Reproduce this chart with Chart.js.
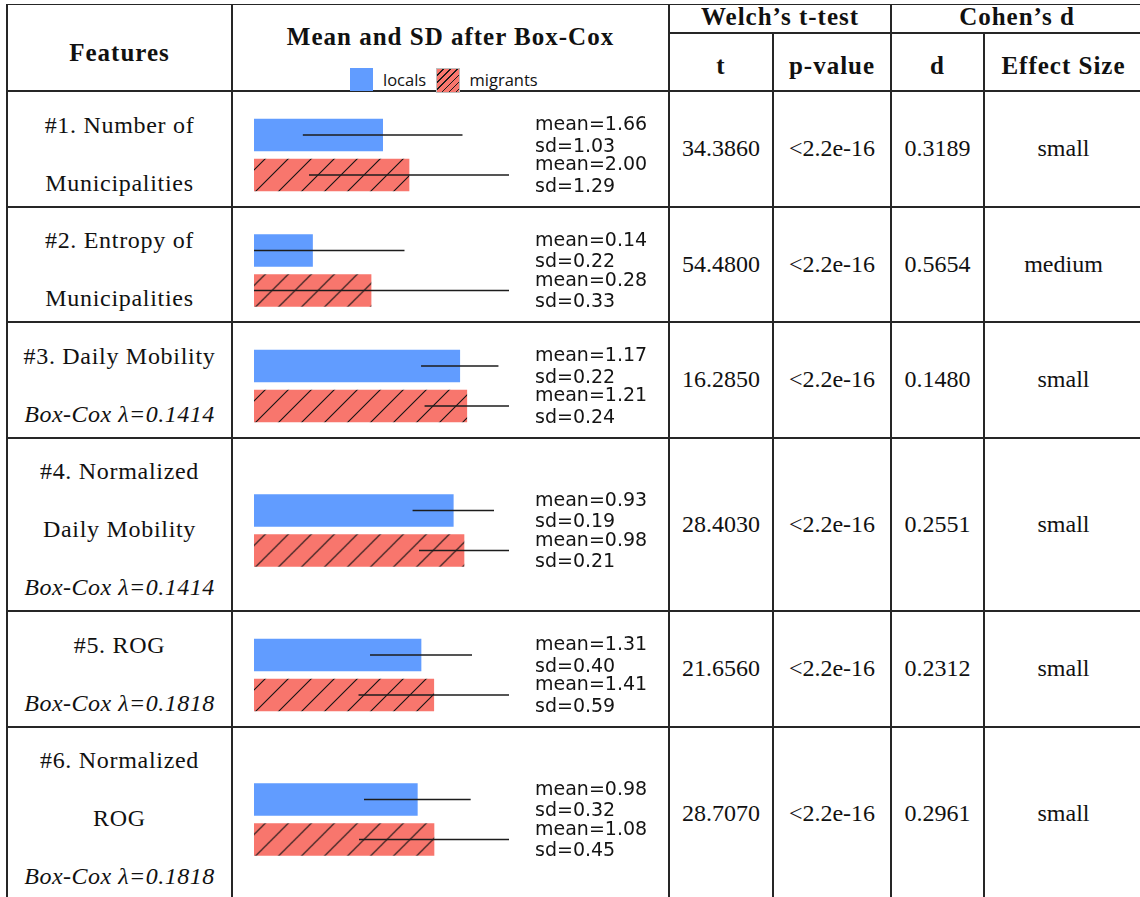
<!DOCTYPE html>
<html>
<head>
<meta charset="utf-8">
<script src="https://cdn.jsdelivr.net/npm/chart.js@4/dist/chart.umd.min.js"></script>
<style>
  html, body { margin: 0; padding: 0; background: #fff; }
  #page { position: relative; width: 1140px; height: 897px; overflow: hidden; background: #fff; }
  .rule { position: absolute; background: #262626; }
  .txt { position: absolute; white-space: nowrap; color: #111; transform: translateX(-50%); }
  .serif { font-family: "Liberation Serif", "DejaVu Serif", serif; font-size: 24px; line-height: 24px; }
  .label { letter-spacing: 0.7px; }
  .bold { font-weight: bold; font-size: 25px; line-height: 25px; letter-spacing: 1px; }
  .ital { font-style: italic; letter-spacing: 0.5px; }
  .legend { font-family: "Open Sans", sans-serif; font-size: 16.5px; line-height: 16.5px; color: #111; transform: none; }
  .swatch { position: absolute; box-sizing: border-box; }
  canvas.rowchart { position: absolute; }
</style>
</head>
<body>
<div id="page"></div>
<script>
// ---- table content ----
const features = [
  ["#1. Number of", "Municipalities"],
  ["#2. Entropy of", "Municipalities"],
  ["#3. Daily Mobility"],
  ["#4. Normalized", "Daily Mobility"],
  ["#5. ROG"],
  ["#6. Normalized", "ROG"]
];
const boxCoxLambda = [null, null, "0.1414", "0.1414", "0.1818", "0.1818"];
const groups = ["locals", "migrants"];
const localsMean   = [1.66, 0.14, 1.17, 0.93, 1.31, 0.98];
const localsSD     = [1.03, 0.22, 0.22, 0.19, 0.40, 0.32];
const migrantsMean = [2.00, 0.28, 1.21, 0.98, 1.41, 1.08];
const migrantsSD   = [1.29, 0.33, 0.24, 0.21, 0.59, 0.45];
const welchT   = ["34.3860", "54.4800", "16.2850", "28.4030", "21.6560", "28.7070"];
const pValues  = ["<2.2e-16", "<2.2e-16", "<2.2e-16", "<2.2e-16", "<2.2e-16", "<2.2e-16"];
const cohenD   = ["0.3189", "0.5654", "0.1480", "0.2551", "0.2312", "0.2961"];
const effectSize = ["small", "medium", "small", "small", "small", "small"];

const BLUE = "#619CFF";
const RED  = "#F8766D";

// ---- layout ----
const page = document.getElementById("page");
const X = { left: 7, feat: 232, plot: 669, t: 773, p: 891, d: 984, right: 1143 };
const rowEdges = [91, 207, 322, 438, 611, 727, 900];
const LW = 1.4;

function hRule(y, x0, x1) {
  const d = document.createElement("div");
  d.className = "rule";
  Object.assign(d.style, { left: x0 + "px", top: (y - LW / 2) + "px", width: (x1 - x0) + "px", height: LW + "px" });
  page.appendChild(d);
}
function vRule(x, y0, y1) {
  const d = document.createElement("div");
  d.className = "rule";
  Object.assign(d.style, { left: (x - LW / 2) + "px", top: y0 + "px", width: LW + "px", height: (y1 - y0) + "px" });
  page.appendChild(d);
}

// baseline placement: measure the font box so text sits on an exact baseline
const mctx = document.createElement("canvas").getContext("2d");
function baselineOffset(font, size) {
  mctx.font = font;
  const m = mctx.measureText("Hg");
  const a = m.fontBoundingBoxAscent, d = m.fontBoundingBoxDescent;
  return (size - (a + d)) / 2 + a;
}
function addText(str, cx, baseline, cls) {
  const el = document.createElement("div");
  el.className = "txt " + cls;
  el.textContent = str;
  page.appendChild(el);
  const cs = getComputedStyle(el);
  const size = parseFloat(cs.fontSize);
  const font = cs.fontStyle + " " + cs.fontWeight + " " + size + "px " + cs.fontFamily;
  el.style.top = (baseline - baselineOffset(font, size)) + "px";
  el.style.left = cx + "px";
  return el;
}

// rules
hRule(4.5, X.left, X.right);
hRule(33, X.plot, X.right);
rowEdges.slice(0, -1).forEach(y => hRule(y, X.left, X.right));
vRule(X.left, 4.5 - LW / 2, 900);
vRule(X.feat, 4.5 - LW / 2, 900);
vRule(X.plot, 4.5 - LW / 2, 900);
vRule(X.t, 33, 900);
vRule(X.p, 4.5 - LW / 2, 900);
vRule(X.d, 33, 900);

// header
addText("Features", (X.left + X.feat) / 2, 61, "serif bold");
addText("Mean and SD after Box-Cox", (X.feat + X.plot) / 2, 45, "serif bold");
addText("Welch\u2019s t-test", (X.plot + X.p) / 2, 25, "serif bold");
addText("Cohen\u2019s d", (X.p + X.right) / 2, 25, "serif bold");
addText("t", (X.plot + X.t) / 2, 74, "serif bold");
addText("p-value", (X.t + X.p) / 2, 74, "serif bold");
addText("d", (X.p + X.d) / 2, 74, "serif bold");
addText("Effect Size", (X.d + X.right) / 2, 74, "serif bold");

// legend
function legendSwatch(x, y, w, h, isHatched) {
  const s = document.createElement("div");
  s.className = "swatch";
  Object.assign(s.style, { left: x + "px", top: y + "px", width: w + "px", height: h + "px" });
  if (isHatched) {
    s.style.border = "1px solid #bdbdbd";
    s.style.background = "repeating-linear-gradient(135deg, " + RED + " 0px, " + RED + " 4.1px, #1a1a1a 4.1px, #1a1a1a 5px)";
  } else {
    s.style.background = BLUE;
  }
  page.appendChild(s);
}
legendSwatch(350, 68.3, 23, 22.7, false);
legendSwatch(435.7, 67.5, 24.5, 25, true);
addText(groups[0], 383, 86.7, "legend");
addText(groups[1], 469.5, 86.7, "legend");

// body text
rowEdges.slice(0, -1).forEach((top, i) => {
  const center = (top + rowEdges[i + 1]) / 2;
  const lines = features[i].slice();
  const lineCls = features[i].map(() => "serif label");
  if (boxCoxLambda[i]) { lines.push("Box-Cox \u03BB=" + boxCoxLambda[i]); lineCls.push("serif ital"); }
  const n = lines.length;
  lines.forEach((s, k) => addText(s, (X.left + X.feat) / 2, center + 12.5 + (k - (n - 1) / 2) * 58, lineCls[k]));
  const b = center + 7;
  addText(welchT[i], (X.plot + X.t) / 2, b, "serif");
  addText(pValues[i], (X.t + X.p) / 2, b, "serif");
  addText(cohenD[i], (X.p + X.d) / 2, b, "serif");
  addText(effectSize[i], (X.d + X.right) / 2, b, "serif");
});

// ---- bar charts: one per feature row ----
function hatchPattern(ctx, color, step, tx) {
  const c = document.createElement("canvas");
  c.width = step; c.height = step;
  const g = c.getContext("2d");
  g.fillStyle = color;
  g.fillRect(0, 0, step, step);
  g.strokeStyle = "#141414";
  g.lineWidth = 1.1;
  g.beginPath();
  g.moveTo(-1, step + 1); g.lineTo(step + 1, -1);
  g.moveTo(-2, 2); g.lineTo(2, -2);
  g.moveTo(step - 2, step + 2); g.lineTo(step + 2, step - 2);
  g.stroke();
  const p = ctx.createPattern(c, "repeat");
  p.setTransform(new DOMMatrix().translate(tx, 0));
  return p;
}

const sdLines = {
  id: "sdLines",
  afterDatasetsDraw(chart, args, opts) {
    const { ctx, chartArea, scales } = chart;
    const xs = scales.x;
    const bars = chart.getDatasetMeta(0).data;
    ctx.save();
    ctx.beginPath();
    ctx.rect(chartArea.left, 0, chartArea.right - chartArea.left, chart.height);
    ctx.clip();
    ctx.strokeStyle = "#1c1c1c";
    ctx.lineWidth = 1.6;
    bars.forEach((bar, i) => {
      const m = opts.means[i], s = opts.sds[i];
      ctx.beginPath();
      ctx.moveTo(xs.getPixelForValue(m - s), bar.y);
      ctx.lineTo(xs.getPixelForValue(m + s), bar.y);
      ctx.stroke();
    });
    ctx.restore();
    ctx.save();
    ctx.fillStyle = "#141414";
    ctx.font = "19px 'DejaVu Sans', sans-serif";
    ctx.textBaseline = "alphabetic";
    ctx.textAlign = "left";
    const tx = chartArea.right + 26;
    bars.forEach((bar, i) => {
      ctx.fillText("mean=" + opts.means[i].toFixed(2), tx, bar.y - 5);
      ctx.fillText("sd=" + opts.sds[i].toFixed(2), tx, bar.y + 16.5);
    });
    ctx.restore();
  }
};

rowEdges.slice(0, -1).forEach((top, i) => {
  const h = rowEdges[i + 1] - top;
  const w = X.plot - X.feat - 1;
  const cv = document.createElement("canvas");
  cv.className = "rowchart";
  cv.width = w; cv.height = h;
  Object.assign(cv.style, { left: (X.feat + 1) + "px", top: top + "px", width: w + "px", height: h + "px" });
  page.appendChild(cv);
  const ctx = cv.getContext("2d");

  const padLeft = 254 - (X.feat + 1);
  const padRight = (X.feat + 1 + w) - 509;
  const padTop = h / 2 - 34;
  const padBottom = h / 2 - 46;
  const redBottom = h - padBottom - 4;
  const means = [localsMean[i], migrantsMean[i]];
  const sds = [localsSD[i], migrantsSD[i]];
  const xMax = Math.max(means[0] + sds[0], means[1] + sds[1]);
  const step = 23;
  const hatch = hatchPattern(ctx, RED, step, ((padLeft + 2 + redBottom) % step));

  new Chart(ctx, {
    type: "bar",
    data: {
      labels: groups,
      datasets: [{
        data: means,
        backgroundColor: [BLUE, hatch],
        borderWidth: 0,
        barThickness: 32
      }]
    },
    options: {
      indexAxis: "y",
      responsive: false,
      maintainAspectRatio: false,
      animation: false,
      devicePixelRatio: 1,
      layout: { padding: { left: padLeft, right: padRight, top: padTop, bottom: padBottom } },
      scales: {
        x: { type: "linear", min: 0, max: xMax, display: false },
        y: { type: "category", display: false }
      },
      plugins: {
        legend: { display: false },
        tooltip: { enabled: false },
        sdLines: { means: means, sds: sds }
      }
    },
    plugins: [sdLines]
  });
});
</script>
</body>
</html>
